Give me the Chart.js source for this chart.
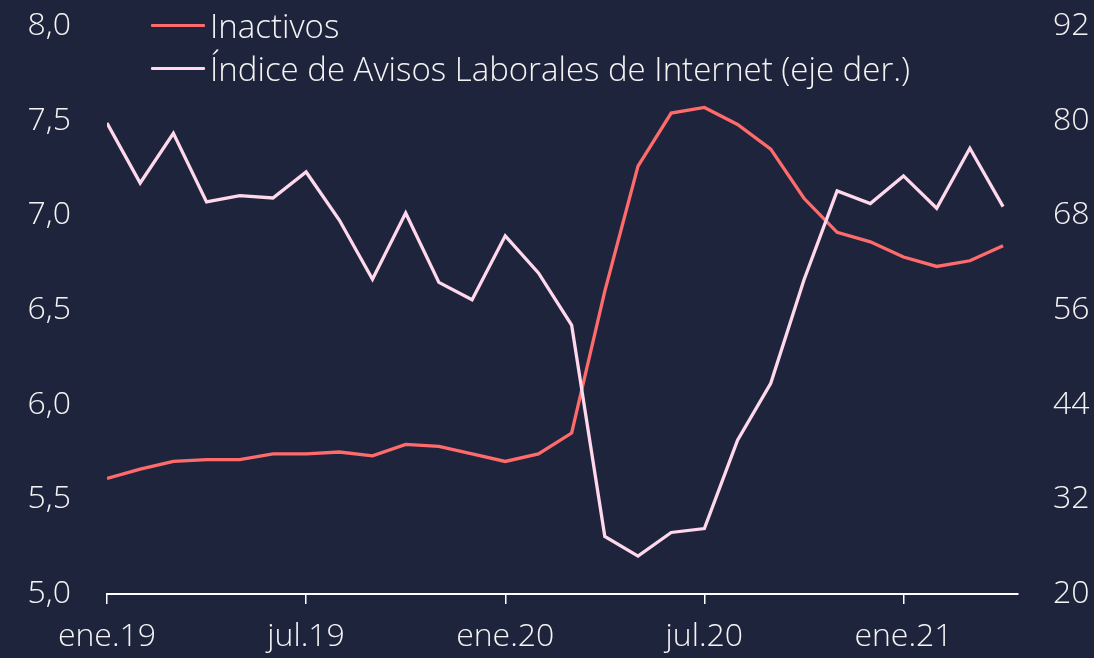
<!DOCTYPE html>
<html>
<head>
<meta charset="utf-8">
<script src="https://cdn.jsdelivr.net/npm/chart.js@4.4.1/dist/chart.umd.min.js"></script>
<style>
  html, body { margin: 0; padding: 0; background: #1f243d; }
  #wrap { position: relative; width: 1094px; height: 658px; background: #1f243d; overflow: hidden; }
  canvas { display: block; }
  #legend { position: absolute; left: 151px; top: 0; font-family: "Open Sans", Lato, sans-serif; font-weight: 300; font-size: 33px; color: #f4f4f4; }
  .row { position: absolute; left: 0; display: flex; align-items: center; white-space: nowrap; height: 40px; }
  .sw { width: 54px; height: 3px; margin-right: 5px; border-radius: 1px; }
</style>
</head>
<body>
<div id="wrap">
  <canvas id="c" width="1094" height="658"></canvas>
  <div id="legend"></div>
</div>
<script>
// ---- data ----
const months = [
  'ene.19','feb.19','mar.19','abr.19','may.19','jun.19','jul.19','ago.19','sep.19','oct.19','nov.19','dic.19',
  'ene.20','feb.20','mar.20','abr.20','may.20','jun.20','jul.20','ago.20','sep.20','oct.20','nov.20','dic.20',
  'ene.21','feb.21','mar.21','abr.21'
];
const inactivos = [
  5.61, 5.66, 5.70, 5.71, 5.71, 5.74, 5.74, 5.75, 5.73, 5.79, 5.78, 5.74,
  5.70, 5.74, 5.85, 6.60, 7.26, 7.54, 7.57, 7.48, 7.35, 7.09, 6.91, 6.86,
  6.78, 6.73, 6.76, 6.84
];
const avisos = [
  79.7, 72.1, 78.4, 69.7, 70.5, 70.2, 73.5, 67.4, 59.9, 68.3, 59.5, 57.3,
  65.4, 60.7, 54.1, 27.3, 24.8, 27.8, 28.3, 39.5, 46.7, 59.8, 71.1, 69.5,
  73.0, 68.9, 76.5, 69.1
];
const seriesNames = ['Inactivos', 'Índice de Avisos Laborales de Internet (eje der.)'];
const seriesColors = ['#ff6b6b', '#ffd8ec'];
const xTickEvery = 6;
const leftTicks = { min: 5, max: 8, step: 0.5 };
const rightTicks = { min: 20, max: 92, step: 12 };

const FONT = { family: '"Open Sans", Lato, sans-serif', size: 32, weight: 300 };
const TXT = '#f4f4f4';
const AREA = { left: 107, top: 26, right: 1018, bottom: 594 };

const toXY = arr => arr.map((v, i) => ({ x: i, y: v }));
const fitVertical = w => s => { s.width = w; s.paddingTop = 0; s.paddingBottom = 0; };

const chart = new Chart(document.getElementById('c'), {
  type: 'line',
  data: {
    datasets: [
      { label: seriesNames[0], data: toXY(inactivos), yAxisID: 'y', borderColor: seriesColors[0],
        borderWidth: 3.3, pointRadius: 0, tension: 0, order: 1 },
      { label: seriesNames[1], data: toXY(avisos), yAxisID: 'y1', borderColor: seriesColors[1],
        borderWidth: 3.3, pointRadius: 0, tension: 0, order: 0 }
    ]
  },
  options: {
    responsive: false,
    animation: false,
    layout: { padding: { top: AREA.top, left: 0, right: 0, bottom: 0 } },
    plugins: { legend: { display: false }, tooltip: { enabled: false } },
    scales: {
      x: {
        type: 'linear', min: 0, max: 27.45,
        border: { display: true, color: '#ffffff', width: 2 },
        grid: { display: true, drawOnChartArea: false, drawTicks: true, tickLength: 10, color: '#ffffff', lineWidth: 1.5 },
        ticks: {
          stepSize: xTickEvery, includeBounds: false, autoSkip: false, maxRotation: 0, padding: 14,
          color: TXT, font: FONT,
          callback: v => (v % xTickEvery === 0 && months[v] !== undefined) ? months[v] : ''
        },
        afterFit: s => { s.height = 658 - AREA.bottom; }
      },
      y: {
        position: 'left', min: leftTicks.min, max: leftTicks.max,
        border: { display: false },
        grid: { display: false, drawTicks: false },
        ticks: { stepSize: leftTicks.step, padding: 36, color: TXT, font: FONT,
          callback: v => v.toFixed(1).replace('.', ',') },
        afterFit: fitVertical(AREA.left)
      },
      y1: {
        position: 'right', min: rightTicks.min, max: rightTicks.max,
        border: { display: false },
        grid: { display: false, drawTicks: false },
        ticks: { stepSize: rightTicks.step, padding: 35, color: TXT, font: FONT,
          callback: v => String(v) },
        afterFit: fitVertical(1094 - AREA.right)
      }
    }
  }
});

// nudge the top of the plot area onto the target position
for (let k = 0; k < 5; k++) {
  const d = AREA.top - chart.chartArea.top;
  if (Math.abs(d) < 0.5) break;
  chart.config.options.layout.padding.top += d;
  chart.update();
}

// HTML legend built from the datasets
const lg = document.getElementById('legend');
chart.data.datasets.forEach((ds, i) => {
  const row = document.createElement('div');
  row.className = 'row';
  row.style.top = (5 + i * 43) + 'px';
  const sw = document.createElement('span');
  sw.className = 'sw';
  sw.style.background = ds.borderColor;
  const t = document.createElement('span');
  t.textContent = ds.label;
  row.appendChild(sw); row.appendChild(t);
  lg.appendChild(row);
});
</script>
</body>
</html>
